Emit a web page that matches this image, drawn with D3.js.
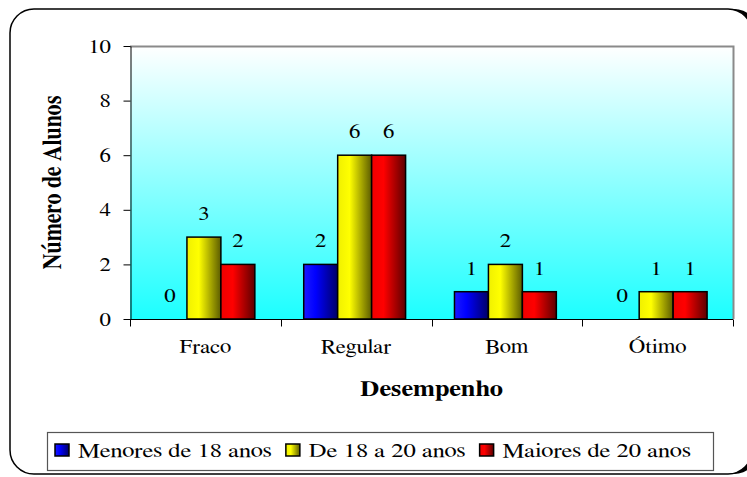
<!DOCTYPE html>
<html>
<head>
<meta charset="utf-8">
<script src="https://cdn.jsdelivr.net/npm/d3@7"></script>
<style>
  html, body { margin: 0; padding: 0; background: #ffffff; }
  svg { display: block; }
</style>
</head>
<body>
<div id="chart"></div>
<script>
// dados
var categories = ["Fraco", "Regular", "Bom", "Ótimo"];
var seriesNames = ["Menores de 18 anos", "De 18 a 20 anos", "Maiores de 20 anos"];
var menores18 = [0, 2, 1, 0];
var de18a20 = [3, 6, 2, 1];
var maiores20 = [2, 6, 1, 1];
var yTicks = [0, 2, 4, 6, 8, 10];
var yTitle = "Número de Alunos";
var xTitle = "Desempenho";

var seriesValues = [menores18, de18a20, maiores20];
var seriesColors = [
	{ light: "#1a1aff", mid: "#0000ff", dark: "#000066" },
	{ light: "#f0f000", mid: "#ffff00", dark: "#5c5c00" },
	{ light: "#f00000", mid: "#ff0000", dark: "#5c0000" }
];

var width = 747, height = 477;
var plot = { left: 130, top: 46, right: 733, bottom: 319 };
var sx = 1.2; // texto esticado na horizontal
var serif = "FreeSerif, 'Liberation Serif', serif";

var svg = d3.select("#chart").append("svg")
	.attr("width", width)
	.attr("height", height);

// texto com largura esticada
function addText(parent, x, yPos, str, size, anchor, bold, stretch) {
	var t = parent.append("text")
		.attr("x", x)
		.attr("y", yPos)
		.style("font-family", serif)
		.style("font-size", size + "px")
		.style("font-weight", bold ? "bold" : "normal")
		.text(str);
	var w = t.node().getComputedTextLength() * (stretch || sx);
	var xStart = anchor === "middle" ? x - w / 2 : anchor === "end" ? x - w : x;
	t.attr("x", xStart)
		.attr("textLength", w)
		.attr("lengthAdjust", "spacingAndGlyphs");
	return w;
}

var defs = svg.append("defs");

// gradiente do fundo
var bg = defs.append("linearGradient")
	.attr("id", "plotBg")
	.attr("x1", 0).attr("y1", 0).attr("x2", 0).attr("y2", 1);
bg.append("stop").attr("offset", "0%").attr("stop-color", "#ffffff");
bg.append("stop").attr("offset", "100%").attr("stop-color", "#1cffff");

// gradientes das barras
seriesColors.forEach(function(c, i) {
	var g = defs.append("linearGradient")
		.attr("id", "barGrad" + i)
		.attr("x1", 0).attr("y1", 0).attr("x2", 1).attr("y2", 0);
	g.append("stop").attr("offset", "0%").attr("stop-color", c.light);
	g.append("stop").attr("offset", "35%").attr("stop-color", c.mid);
	g.append("stop").attr("offset", "100%").attr("stop-color", c.dark);
});

// moldura com sombra
svg.append("rect")
	.attr("x", 16).attr("y", 9)
	.attr("width", 742).attr("height", 465)
	.attr("rx", 24).attr("ry", 24)
	.attr("fill", "#000000");
svg.append("rect")
	.attr("x", 10).attr("y", 9)
	.attr("width", 742).attr("height", 465)
	.attr("rx", 24).attr("ry", 24)
	.attr("fill", "#ffffff")
	.attr("stroke", "#000000")
	.attr("stroke-width", 1.5);

// escalas
var x0 = d3.scaleBand()
	.domain(categories)
	.range([plot.left, plot.right])
	.padding(0);

var x1 = d3.scaleBand()
	.domain(d3.range(seriesNames.length))
	.range([0, x0.bandwidth()])
	.paddingInner(0)
	.paddingOuter(0.72)
	.align(0.47);

var y = d3.scaleLinear()
	.domain([0, 10])
	.range([plot.bottom, plot.top]);

// area do grafico
svg.append("rect")
	.attr("x", plot.left).attr("y", plot.top)
	.attr("width", plot.right - plot.left)
	.attr("height", plot.bottom - plot.top)
	.attr("fill", "url(#plotBg)");

svg.append("path")
	.attr("d", "M" + plot.left + "," + (plot.top + 0.5) + "H" + (plot.right + 0.5) + "V" + plot.bottom)
	.attr("fill", "none")
	.attr("stroke", "#8a8a8a")
	.attr("stroke-width", 2);

// eixo y
var yAxis = svg.append("g")
	.attr("transform", "translate(" + (plot.left + 0.5) + ",0)")
	.call(d3.axisLeft(y).tickValues(yTicks).tickSize(7).tickSizeOuter(0).tickFormat(""));
yAxis.select(".domain").attr("stroke", "#000000");
yAxis.selectAll(".tick line").attr("stroke", "#000000");

yTicks.forEach(function(t) {
	addText(svg, 111, y(t) + 6.5, String(t), 19, "end");
});

// eixo x (marcas entre categorias)
var xAxis = svg.append("g")
	.attr("transform", "translate(0," + (plot.bottom + 0.5) + ")");
xAxis.append("line")
	.attr("x1", plot.left).attr("x2", plot.right)
	.attr("stroke", "#000000");
var sepX = categories.map(function(c) { return x0(c); }).concat([plot.right]);
xAxis.selectAll(".sep")
	.data(sepX)
	.enter()
	.append("line")
		.attr("class", "sep")
		.attr("x1", function(d) { return Math.round(d) + 0.5; })
		.attr("x2", function(d) { return Math.round(d) + 0.5; })
		.attr("y1", 0).attr("y2", 7)
		.attr("stroke", "#000000");

categories.forEach(function(c) {
	addText(svg, x0(c) + x0.bandwidth() / 2, 353, c, 19, "middle");
});

// barras
var barData = [];
categories.forEach(function(c, ci) {
	seriesValues.forEach(function(vals, si) {
		barData.push({ cat: c, s: si, value: vals[ci] });
	});
});

svg.append("g").selectAll("rect")
	.data(barData.filter(function(d) { return d.value > 0; }))
	.enter()
	.append("rect")
		.attr("x", function(d) { return x0(d.cat) + x1(d.s); })
		.attr("y", function(d) { return y(d.value); })
		.attr("width", x1.bandwidth())
		.attr("height", function(d) { return y(0) - y(d.value); })
		.attr("fill", function(d) { return "url(#barGrad" + d.s + ")"; })
		.attr("stroke", "#000000")
		.attr("stroke-width", 1.5);

// rotulos dos valores
var labels = svg.append("g");
barData.forEach(function(d) {
	addText(labels, x0(d.cat) + x1(d.s) + x1.bandwidth() / 2, y(d.value) - 17, String(d.value), 19, "middle");
});

// titulos dos eixos
addText(svg, (plot.left + plot.right) / 2, 396, xTitle, 22, "middle", true);

svg.append("text")
	.attr("transform", "translate(61," + ((plot.top + plot.bottom) / 2) + ") scale(" + sx + ",1) rotate(-90)")
	.attr("text-anchor", "middle")
	.style("font-family", serif)
	.style("font-size", "22px")
	.style("font-weight", "bold")
	.text(yTitle);

// legenda
var legend = svg.append("g");
legend.append("rect")
	.attr("x", 47.5).attr("y", 432.5)
	.attr("width", 666).attr("height", 38)
	.attr("fill", "#ffffff")
	.attr("stroke", "#555555")
	.attr("stroke-width", 1.2);

var lx = 55;
seriesNames.forEach(function(name, i) {
	legend.append("rect")
		.attr("x", lx).attr("y", 444)
		.attr("width", 14).attr("height", 12)
		.attr("fill", "url(#barGrad" + i + ")")
		.attr("stroke", "#000000")
		.attr("stroke-width", 1.5);
	var w = addText(legend, lx + 23, 457, name, 20, "start", false, 1.23);
	lx += 23 + w + 14;
});
</script>
</body>
</html>
